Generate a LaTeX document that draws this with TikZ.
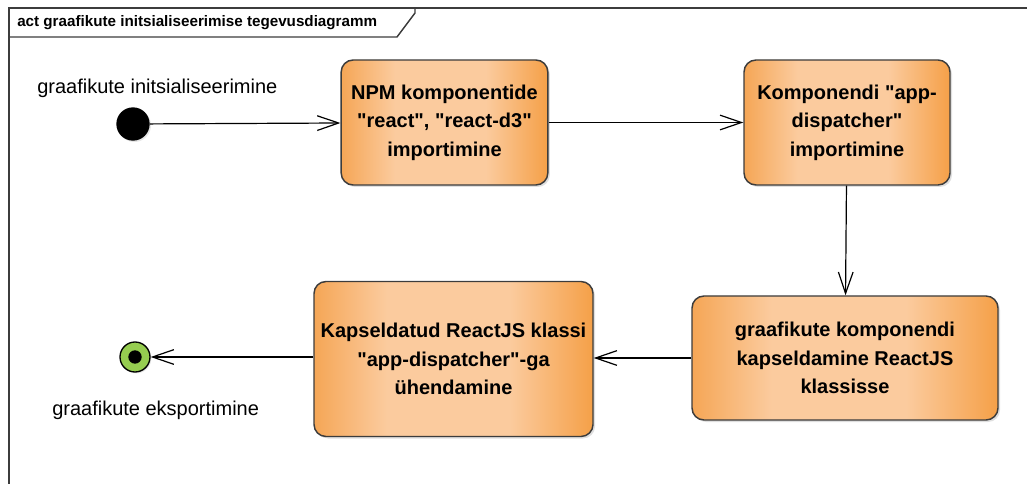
\documentclass[tikz,border=0pt]{standalone}
\usepackage{fontspec}
\setmainfont{Liberation Sans}[Ligatures=TeXOff]
\usetikzlibrary{arrows.meta,shadows}
\definecolor{actleft}{RGB}{245,166,86}
\definecolor{actmid}{RGB}{251,203,158}
\definecolor{actright}{RGB}{245,160,72}
\definecolor{framegray}{RGB}{60,60,60}
\definecolor{finalgreen}{RGB}{150,205,80}
% node box spans 25bp..75bp: orange edges, broad light band inside
\pgfdeclarehorizontalshading{actionfill}{100bp}{
  color(0bp)=(actleft); color(25bp)=(actleft); color(38bp)=(actmid);
  color(60bp)=(actmid); color(75bp)=(actright); color(100bp)=(actright)}
\tikzset{
  action/.style={draw=framegray, line width=1.1pt, rounded corners=9pt,
    shading=actionfill,
    drop shadow={shadow xshift=1.5pt, shadow yshift=-1.5pt, opacity=0.25},
    align=center, font=\bfseries\fontsize{15}{21.5}\selectfont,
    inner sep=0pt},
  flow/.style={draw=black, line width=0.9pt,
    -{Straight Barb[length=16pt,width=11pt,line width=0.9pt]}},
  caption/.style={font=\fontsize{15}{18}\selectfont, inner sep=0pt}
}
\begin{document}
\begin{tikzpicture}[x=0.75pt,y=-0.75pt]
  \useasboundingbox (0,0) rectangle (1027,484);
  % diagram frame and its name tab
  \draw[framegray, line width=1.3pt] (9,490) -- (9,8) -- (1035,8);
  \draw[framegray, line width=1.1pt] (9,37) -- (397,37) -- (415,13) -- (415,8);
  \node[anchor=west, font=\bfseries\fontsize{11.4}{13}\selectfont, inner sep=0pt]
    (title) at (17,23) {act graafikute initsialiseerimise tegevusdiagramm};

  % start and end points
  \node[circle, fill=black, minimum size=25pt, inner sep=0pt,
        drop shadow={shadow xshift=1pt, shadow yshift=-1pt, opacity=0.2}] (start) at (133,124) {};
  \node[caption, anchor=west] (startlbl) at (37,88) {graafikute initsialiseerimine};

  \node[circle, draw=black, line width=1pt, fill=finalgreen, minimum size=22.5pt, inner sep=0pt,
        drop shadow={shadow xshift=1pt, shadow yshift=-1pt, opacity=0.2}] (end) at (135,357) {};
  \node[circle, fill=black, minimum size=10pt, inner sep=0pt] (endcore) at (end.center) {};
  \node[caption, anchor=west] (endlbl) at (52,410) {graafikute eksportimine};

  % actions
  \node[action, minimum width=155pt, minimum height=93.75pt] (npm) at (444.5,122.5)
    {NPM komponentide\\"react", "react-d3"\\importimine};
  \node[action, minimum width=154.5pt, minimum height=93.75pt] (disp) at (847,122.5)
    {Komponendi "app-\\dispatcher"\\importimine};
  \node[action, minimum width=229.5pt, minimum height=93pt] (wrap) at (845,358)
    {graafikute komponendi\\kapseldamine ReactJS\\klassisse};
  \node[action, minimum width=209.25pt, minimum height=116.25pt] (bind) at (453.5,359)
    {Kapseldatud ReactJS klassi\\"app-dispatcher"-ga\\ühendamine};

  % control flow
  \draw[flow] (start) -- (npm);
  \draw[flow] (npm) -- (disp);
  \draw[flow] (disp) -- (wrap);
  \draw[flow] (wrap.west) -- (bind.east |- wrap.west);
  \draw[flow] (bind.west |- end) -- (end);
\end{tikzpicture}
\end{document}
